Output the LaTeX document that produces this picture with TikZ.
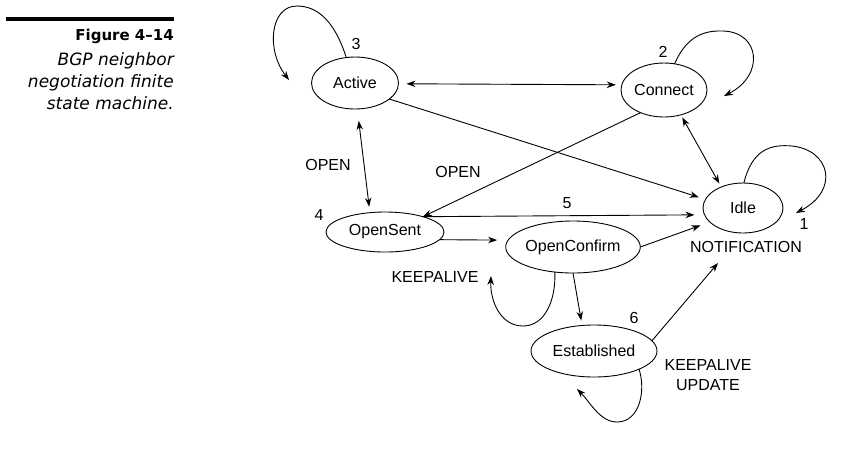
\documentclass[tikz,border=0pt]{standalone}
\usepackage{fontspec}
\setmainfont{Liberation Sans}
\newfontfamily\capfont{DejaVu Sans}
\usetikzlibrary{shapes.geometric,arrows.meta}
\begin{document}
\begin{tikzpicture}[x=1pt,y=-1pt,
  st/.style={ellipse,draw,line width=0.9pt,inner sep=0pt,outer sep=0pt,font=\fontsize{16}{18}\selectfont},
  lbl/.style={font=\fontsize{16}{19.5}\selectfont,inner sep=0pt},
  edge/.style={line width=0.9pt,-{Stealth[length=9pt,width=6.5pt]}},
  bi/.style={line width=0.9pt,{Stealth[length=9pt,width=6.5pt]}-{Stealth[length=9pt,width=6.5pt]}}]
\useasboundingbox[fill=white] (0,0) rectangle (859,459);

% caption
\draw[line width=4pt] (6,18.5) -- (174,18.5);
\node[anchor=base east,inner sep=0pt,font=\capfont\bfseries\fontsize{15}{18}\selectfont] (figno) at (174,40) {Figure 4–14};
\node[anchor=base east,inner sep=0pt,font=\capfont\itshape\fontsize{17}{20}\selectfont] (cap1) at (174,65.5) {BGP neighbor};
\node[anchor=base east,inner sep=0pt,font=\capfont\itshape\fontsize{17}{20}\selectfont] (cap2) at (174,87.5) {negotiation finite};
\node[anchor=base east,inner sep=0pt,font=\capfont\itshape\fontsize{17}{20}\selectfont] (cap3) at (174,109.5) {state machine.};

% states
\node[st,minimum width=87pt,minimum height=52pt] (act) at (355,83) {Active};
\node[st,minimum width=86pt,minimum height=54pt] (con) at (664,90) {Connect};
\node[st,minimum width=80pt,minimum height=50pt] (idle) at (743,208) {Idle};
\node[st,minimum width=118pt,minimum height=40pt] (os) at (385,232) {OpenSent};
\node[st,minimum width=134pt,minimum height=52pt] (oc) at (573,247) {OpenConfirm};
\node[st,minimum width=126pt,minimum height=52pt] (est) at (594,351) {Established};

% labels
\node[lbl] (n3) at (356,44) {3};
\node[lbl] (n2) at (663,52) {2};
\node[lbl] (n1) at (804,224) {1};
\node[lbl] (n4) at (319,215) {4};
\node[lbl] (n5) at (567,203) {5};
\node[lbl] (n6) at (634,318) {6};
\node[lbl] (open1) at (328,165) {OPEN};
\node[lbl] (open2) at (458,172) {OPEN};
\node[lbl] (ka1) at (435,277) {KEEPALIVE};
\node[lbl] (notif) at (746,247) {NOTIFICATION};
\node[lbl,align=center] (kau) at (708,375) {KEEPALIVE\\UPDATE};

% free ends of loops
\coordinate (tipA) at (289,80);
\coordinate (tipC) at (724,96);
\coordinate (tipI) at (796,213);
\coordinate (tipOC) at (491,276);
\coordinate (tipE) at (577,389);
\coordinate (tipN) at (718,263);

% connectors
\draw[edge] (act.109) .. controls (335,22) and (318,6) .. (297,6) .. controls (270,6) and (266,50) .. (tipA);
\draw[bi,shorten <=8pt,shorten >=6pt] (act.-1) -- (con.173);
\draw[edge,shorten >=7pt] (act.-25) -- (idle.167);
\draw[bi,shorten <=12pt,shorten >=6pt] (act.-85) -- (os.128);
\draw[edge] (con.-136) -- (os.22);
\draw[bi,shorten <=3pt,shorten >=4pt] (con.-56) -- (idle.136);
\draw[edge] (con.68) .. controls (685,40) and (700,30) .. (723,31) .. controls (760,32) and (765,75) .. (tipC);
\draw[edge] (idle.88) .. controls (752,150) and (770,144) .. (792,146) .. controls (830,150) and (840,190) .. (tipI);
\draw[edge,shorten >=10pt] (os.22) -- (idle.-170);
\draw[edge,shorten >=11pt] (os.-8) -- (oc.174);
\draw[edge,shorten >=10pt] (oc.0) -- (idle.-157);
\draw[edge] (oc.-126) .. controls (556,300) and (545,326) .. (523,326) .. controls (500,326) and (490,300) .. (tipOC);
\draw[edge,shorten >=5pt] (oc.-90) -- (est.115);
\draw[edge] (est.10) -- (tipN);
\draw[edge] (est.-22) .. controls (646,390) and (640,422) .. (617,422) .. controls (600,422) and (590,402) .. (tipE);
\end{tikzpicture}
\end{document}
